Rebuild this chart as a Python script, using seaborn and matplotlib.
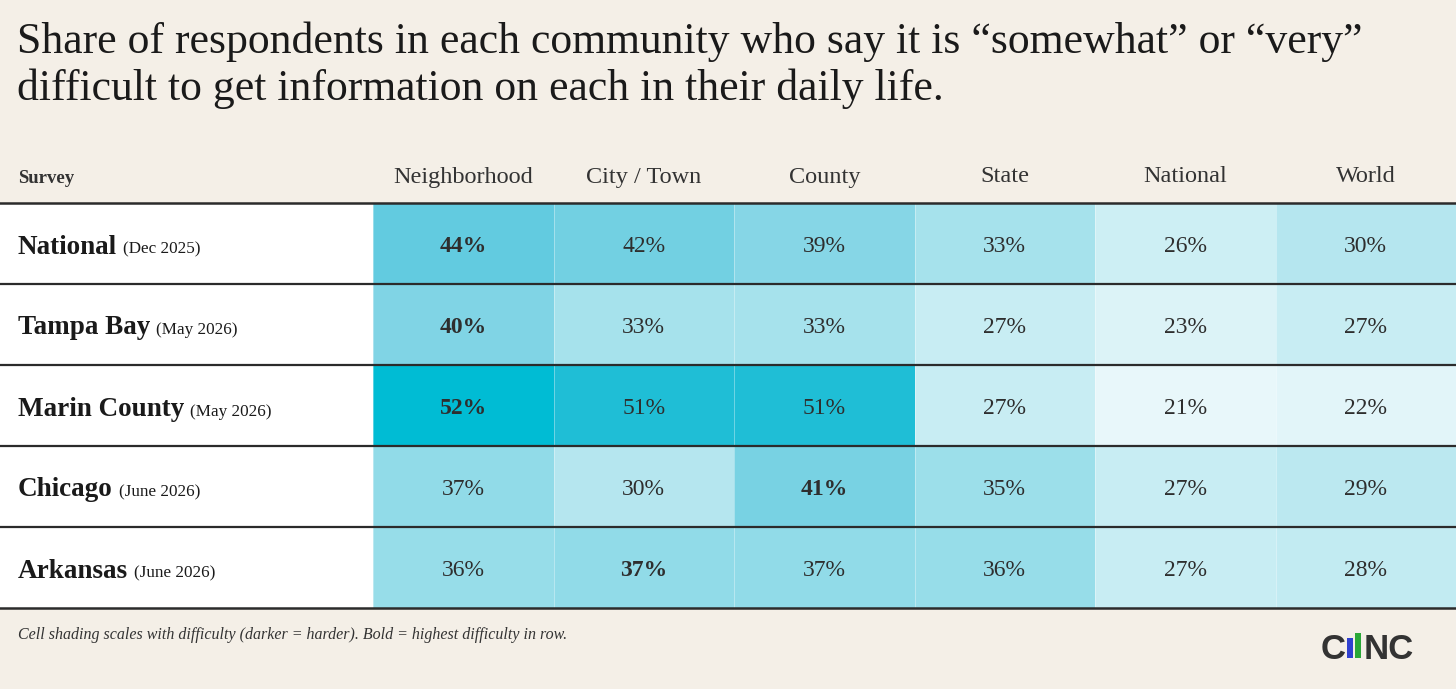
import numpy as np
import pandas as pd
import matplotlib.pyplot as plt
import matplotlib.colors as mcolors
from matplotlib.lines import Line2D
from matplotlib.patches import Rectangle
import seaborn as sns

surveys = ["National", "Tampa Bay", "Marin County", "Chicago", "Arkansas"]
survey_dates = ["(Dec 2025)", "(May 2026)", "(May 2026)", "(June 2026)", "(June 2026)"]
levels = ["Neighborhood", "City / Town", "County", "State", "National", "World"]
values = [
    [44, 42, 39, 33, 26, 30],
    [40, 33, 33, 27, 23, 27],
    [52, 51, 51, 27, 21, 22],
    [37, 30, 41, 35, 27, 29],
    [36, 37, 37, 36, 27, 28],
]

W, H = 1456, 689
BG = "#f4efe7"
INK = "#1a1a1a"
SERIF = ["Liberation Serif", "DejaVu Serif"]

df = pd.DataFrame(values, index=surveys, columns=levels)

# shading: pale aqua -> strong cyan
stops = [(21, "#e8f7fa"), (23, "#dcf3f7"), (27, "#c8edf3"), (30, "#b5e6ef"),
         (33, "#a6e2ec"), (36, "#97dde9"), (39, "#86d6e6"), (42, "#72d0e2"),
         (44, "#62cbe0"), (51, "#20bed6"), (52, "#00bcd4")]
lo, hi = stops[0][0], stops[-1][0]
cmap = mcolors.LinearSegmentedColormap.from_list(
    "diff", [((v - lo) / (hi - lo), c) for v, c in stops])


def px(x, y):
    return x / W, 1 - y / H


fig = plt.figure(figsize=(W / 100, H / 100), dpi=100, facecolor=BG)

top, bot, left = 203, 608, 373
# white label column
fig.add_artist(Rectangle(px(0, bot), left / W, (bot - top) / H,
                         transform=fig.transFigure, facecolor="white", edgecolor="none"))

ax = fig.add_axes([left / W, 1 - bot / H, (W - left) / W, (bot - top) / H])
sns.heatmap(df, ax=ax, cmap=cmap, vmin=lo, vmax=hi, cbar=False,
            annot=True, fmt="d", linewidths=0.6, linecolor=(1, 1, 1, 0.35),
            annot_kws={"fontsize": 17, "color": "#2e2e2e", "family": SERIF})
ax.set_xticks([])
ax.set_yticks([])
ax.set_xlabel("")
ax.set_ylabel("")
# bold = first highest value in each row
first_max = df.values.argmax(axis=1)
for i, t in enumerate(ax.texts):
    r, c = divmod(i, len(levels))
    t.set_text(t.get_text() + "%")
    x, y = t.get_position()
    t.set_position((x, y + 0.035))
    if c == first_max[r]:
        t.set_fontweight("bold")

# row separators
row_h = (bot - top) / len(surveys)
for k in range(len(surveys) + 1):
    y = top + k * row_h
    fig.add_artist(Line2D([0, 1], [1 - y / H] * 2, transform=fig.transFigure,
                          color="#2b2b2b", lw=1.6 if 0 < k < len(surveys) else 1.8))

# title
fig.text(*px(17, 42), "Share of respondents in each community who say it is \u201csomewhat\u201d or \u201cvery\u201d",
         fontsize=31.5, family=SERIF, color=INK, va="center")
fig.text(*px(17, 89), "difficult to get information on each in their daily life.",
         fontsize=31.5, family=SERIF, color=INK, va="center")

# header
fig.text(*px(18, 178), "Survey", fontsize=13.5, family=SERIF, weight="bold", color="#333333", va="center")
col_w = (W - left) / len(levels)
for j, lab in enumerate(levels):
    fig.text(*px(left + (j + 0.5) * col_w, 177), lab, fontsize=17.5, family=SERIF,
             color="#333333", ha="center", va="center")

# row labels
fig.canvas.draw()
renderer = fig.canvas.get_renderer()
for i, (name, date) in enumerate(zip(surveys, survey_dates)):
    yc = top + (i + 0.5) * row_h
    t = fig.text(*px(18, yc + 10), name, fontsize=19.5, family=SERIF, weight="bold",
                 color=INK, va="baseline")
    bb = t.get_window_extent(renderer)
    fig.text(*px(bb.x1 + 6, yc + 10), date, fontsize=12.3, family=SERIF,
             color=INK, va="baseline")

# footnote
fig.text(*px(18, 635), "Cell shading scales with difficulty (darker = harder). Bold = highest difficulty in row.",
         fontsize=11.5, family=SERIF, style="italic", color="#333333", va="center")

# logo
logo_font = ["Liberation Sans", "DejaVu Sans"]
fig.text(*px(1321, 659), "C", fontsize=25, family=logo_font, weight="bold",
         color="#333333", va="baseline")
fig.add_artist(Rectangle(px(1347, 658), 6 / W, 20 / H, transform=fig.transFigure,
                         facecolor="#3040d0", edgecolor="none"))
fig.add_artist(Rectangle(px(1355, 658), 6 / W, 25 / H, transform=fig.transFigure,
                         facecolor="#2aa838", edgecolor="none"))
fig.text(*px(1364, 659), "NC", fontsize=25, family=logo_font, weight="bold",
         color="#333333", va="baseline")

fig.savefig("out.png", dpi=100, facecolor=BG)
